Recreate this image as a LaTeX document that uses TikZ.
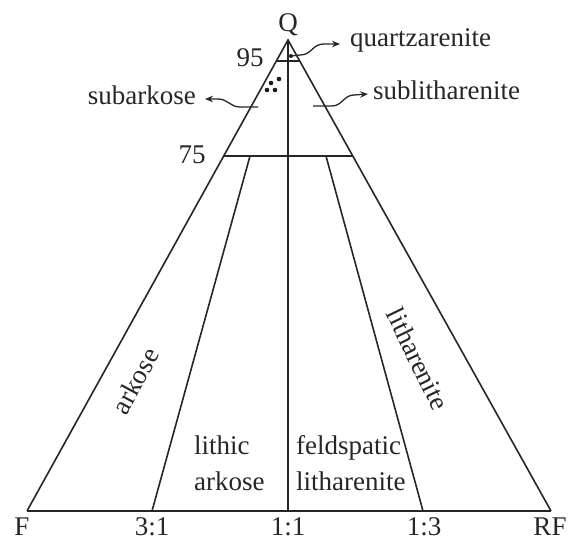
\documentclass[tikz,border=0pt]{standalone}
\usepackage{fontspec}
\setmainfont{Liberation Serif}
\usetikzlibrary{arrows.meta,calc}
\begin{document}
\begin{tikzpicture}[x=1pt,y=-1pt,
  edge/.style={line width=1.6pt, draw=black!85},
  thick edge/.style={line width=2.6pt, draw=black!85},
  lbl/.style={font=\fontsize{27}{36}\selectfont, inner sep=0pt, text=black!85},
  ptr/.style={line width=1.3pt, draw=black!85, -{Stealth[length=8pt,width=6.5pt]}},
  grain/.style={circle, fill=black!90, inner sep=0pt, minimum size=4.6pt}]
\useasboundingbox (0,0) rectangle (568,540);
% vertices
\coordinate (Q) at (288,40);
\coordinate (F) at (27,511);
\coordinate (R) at (551,511);
\coordinate (M) at (288,511);
\coordinate (a95) at ($(Q)!0.045!(F)$);
\coordinate (b95) at ($(Q)!0.045!(R)$);
\coordinate (a75) at ($(Q)!0.246!(F)$);
\coordinate (b75) at ($(Q)!0.246!(R)$);
\coordinate (t31) at (250,156);
\coordinate (b31) at (152,511);
\coordinate (t13) at (326,156);
\coordinate (b13) at (423,511);
% triangle and field boundaries
\draw[edge] (F) -- (Q) -- (R);
\draw[thick edge] (F) -- (R);
\draw[thick edge] (Q) -- (M);
\draw[edge] (a95) -- (b95);
\draw[edge] (a75) -- (b75);
\draw[edge] (t31) -- (b31);
\draw[edge] (t13) -- (b13);
% grains
\node[grain] (g1) at (279,79) {};
\node[grain] (g2) at (271,83) {};
\node[grain] (g3) at (267,90) {};
\node[grain] (g4) at (275,90) {};
% labels
\node[lbl, anchor=base] (lq) at (288,32) {Q};
\node[lbl, anchor=base] (l95) at (250,67) {95};
\node[lbl, anchor=base] (l75) at (192,164) {75};
\node[lbl, anchor=base west] (lqa) at (350,47) {quartzarenite};
\node[lbl, anchor=base east] (lsa) at (196,105) {subarkose};
\node[lbl, anchor=base west] (lsl) at (373,100) {sublitharenite};
\node[lbl, rotate=61.5] (lark) at (135,381) {arkose};
\node[lbl, rotate=-64] (llit) at (418,359) {litharenite};
\node[lbl, anchor=base west] (lla1) at (194,454) {lithic};
\node[lbl, anchor=base west] (lla2) at (194,490) {arkose};
\node[lbl, anchor=base west] (lfl1) at (296,454) {feldspatic};
\node[lbl, anchor=base west] (lfl2) at (296,490) {litharenite};
\node[lbl, anchor=base] (lF) at (22,535) {F};
\node[lbl, anchor=base] (l31) at (152,535) {3:1};
\node[lbl, anchor=base] (l11) at (288,535) {1:1};
\node[lbl, anchor=base] (l13) at (424,535) {1:3};
\node[lbl, anchor=base] (lRF) at (550,535) {RF};
% pointer arrows
\node[grain, minimum size=4pt] (qs) at (291,56) {};
\draw[ptr] (qs.center) -- (300,55) .. controls (312,55) and (312,44) .. (324,44) -- ($(lqa.base west)+(-10,-3)$);
\coordinate (sas) at (258,107);
\draw[ptr] (sas) -- (240,107) .. controls (230,107) and (228,99) .. (218,99) -- ($(lsa.base east)+(9,-6)$);
\coordinate (sls) at (313,106);
\draw[ptr] (sls) -- (332,106) .. controls (342,106) and (344,95) .. (354,95) -- ($(lsl.base west)+(-5,-6)$);
\end{tikzpicture}
\end{document}
